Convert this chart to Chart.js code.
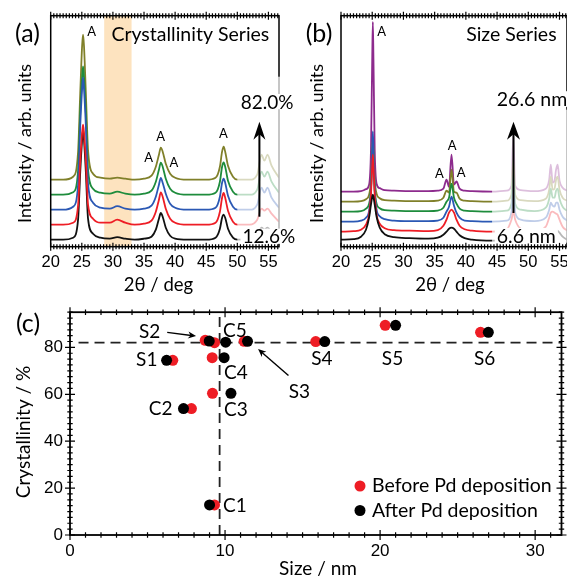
<!DOCTYPE html>
<html>
<head>
<meta charset="utf-8">
<title>Crystallinity and size series</title>
<script src="https://cdn.jsdelivr.net/npm/chart.js@4.4.1/dist/chart.umd.min.js"></script>
<style>
  body { margin: 0; background: #fff; }
  #figure { position: relative; width: 567px; height: 578px; overflow: hidden; }
  #figure canvas { position: absolute; }
</style>
</head>
<body>
<div id="figure">
  <canvas id="crystChart" width="300" height="300" style="left:0;top:0"></canvas>
  <canvas id="sizeChart" width="277" height="300" style="left:290px;top:0"></canvas>
  <canvas id="mapChart" width="567" height="283" style="left:0;top:295px"></canvas>
</div>
<script>
const tickFont = "'Liberation Sans', Arial, sans-serif";
const textFont = "Lato, 'Open Sans', sans-serif";

// (a) crystallinity series: 2theta grid and stacked patterns (arb. units)
const anglesA = [20, 22, 23.6, 24.4, 24.75, 25.05, 25.2, 25.35, 25.65, 26.0, 26.8, 28, 29.5, 30.7, 32, 33.5, 35, 36.2, 36.9, 37.4,
  37.7, 38.0, 38.5, 39.2, 40, 42, 45, 46.5, 47.2, 47.55, 47.8, 48.05, 48.5, 49.3, 50, 52, 53.2, 53.9, 54.35, 54.85, 55.5, 56.7];
const crystC1 = [7, 7, 9, 27, 75, 107, 117, 107, 75, 28, 13, 9, 8, 9.5, 8, 7, 8, 10, 17, 28,
  33.7, 30, 19, 11, 8, 7, 7, 9, 18, 29, 32, 29, 18, 9, 7, 7, 10, 19, 17, 19, 15, 9];
const crystC2 = [22, 22, 24, 41, 86, 114, 122, 114, 86, 42, 28, 24, 24, 27, 24, 22, 23, 26, 35, 47,
  54.3, 50, 38, 28, 24, 22, 22, 24, 35, 49, 53.7, 49, 36, 25, 22, 22, 27, 38, 36, 38, 33, 25];
const crystC3 = [37, 37, 40, 62, 121, 158, 169, 158, 121, 63, 44, 39, 38, 40.5, 38, 37, 38, 41, 50, 62,
  68.7, 64, 53, 43, 39, 37, 37, 39, 50, 64, 68, 64, 51, 40, 37, 37, 42, 59, 54, 59, 49, 39];
const crystC4 = [52, 52, 54.5, 76, 134, 170, 180.3, 170, 134, 77, 58, 54, 53, 55, 53, 52, 53, 56, 65, 77,
  84, 80, 68, 58, 54, 52, 52, 54, 65, 80, 84.3, 80, 66, 55, 52, 52, 57, 75, 70, 75, 65, 54];
const crystC5 = [67, 67, 70, 95, 154, 201, 212, 201, 154, 97, 73, 69, 68, 69, 68, 67, 68, 71, 80, 92,
  99, 95, 83, 73, 69, 67, 67, 69, 80, 95, 100, 95, 81, 70, 67, 67, 72, 92, 86, 92, 81, 69];

// (b) size series
const anglesB = [20, 22, 23.2, 24.0, 24.5, 24.8, 25.0, 25.1, 25.2, 25.4, 25.7, 26.2, 27.0, 28.5, 31, 34, 35.5, 36.4, 36.9, 37.3,
  37.7, 38.1, 38.5, 39.0, 39.8, 41, 44.2, 46.5, 47.3, 47.6, 47.9, 48.8, 51, 52.8, 53.35, 53.6, 53.9, 54.2, 54.45, 54.7, 55.0, 55.5, 56.2];
const sizeS1 = [7, 7.5, 10, 17, 29, 42, 50, 52, 50, 42, 30, 19, 12.5, 9.5, 8.5, 8, 9, 12, 15, 18,
  19, 18, 15, 11.5, 8.5, 7, 6, 7, 13, 16, 13, 8, 6.5, 10, 15, 17, 17.5, 17, 16.5, 16, 14, 10, 7];
const sizeS2 = [15, 15.5, 17, 22, 32, 52, 82, 92, 82, 52, 32, 23, 18.5, 16.5, 16, 15.5, 16.5, 21, 27, 34,
  37, 34, 27, 21, 17.5, 16, 15, 17, 27, 35, 27, 18, 15.5, 20, 29, 34, 35, 34, 33, 32, 27, 20, 16];
const sizeS3 = [25, 25, 26, 29, 36, 57, 97, 115.3, 97, 57, 37, 30.5, 27.5, 26, 25.5, 25.5, 26, 29, 35, 40,
  50, 41, 34, 29, 26, 25.5, 25, 26, 34, 57, 34, 27, 25.5, 29, 37, 44, 41, 40, 44, 44, 37, 30, 26];
const sizeS4 = [35, 35, 35.5, 38, 43, 57, 87, 102, 87, 57, 43, 38.5, 36.5, 36, 35.5, 35.5, 36, 39, 45, 49,
  63, 49, 43, 38, 36, 35.5, 35, 36, 43, 72, 43, 37, 35.5, 39, 48, 58, 49, 49, 56, 58, 48, 40, 36];
const sizeS5 = [45, 45, 45.5, 47.5, 52, 67, 97, 107, 97, 67, 53, 48.5, 46.5, 46, 45.5, 45.5, 46, 49, 56, 54,
  77, 55, 54, 48, 46, 45.5, 45, 46, 52, 87, 52, 46.5, 45.5, 48, 57, 70, 57, 58, 67, 70, 57, 49, 46];
const sizeS6 = [55, 55, 55.5, 57.5, 62, 97, 187, 224.7, 187, 97, 63, 58.5, 56.5, 56, 55.5, 55.5, 56, 58, 67, 60,
  92, 62, 65.3, 58, 56, 55.5, 55, 56, 61, 112, 61, 56.5, 55.5, 58, 67, 82, 64, 66, 77, 82, 66, 59, 56];

// (c) crystallinity vs crystallite size
const samples = ["S1", "S2", "S3", "S4", "S5", "S6", "C1", "C2", "C3", "C4", "C5"];
const sizeBefore = [6.63, 8.72, 11.23, 15.85, 20.33, 26.48, 9.32, 7.83, 9.19, 9.17, 9.32];
const crystBefore = [74.5, 83.0, 82.6, 82.5, 89.4, 86.4, 12.8, 53.9, 60.4, 75.6, 82.0];
const sizeAfter = [6.23, 8.98, 11.45, 16.43, 21.0, 26.98, 9.0, 7.32, 10.38, 9.94, 10.04];
const crystAfter = [74.5, 82.7, 82.6, 82.5, 89.4, 86.4, 12.8, 53.9, 60.4, 75.6, 82.2];
const refSize = 9.65;
const refCryst = 82;

const angleTicks = [20, 25, 30, 35, 40, 45, 50, 55];
const sizeTicks = [0, 10, 20, 30];
const crystTicks = [0, 20, 40, 60, 80];

const colors = {
  black: "#111111",
  red: "#ee1d25",
  blue: "#2b58b4",
  green: "#1e8c3c",
  olive: "#80802a",
  purple: "#8d2b8d",
};

function pattern(angles, values) {
  return angles.map((x, i) => ({ x, y: values[i] }));
}

function trace(label, angles, values, color, order) {
  return {
    label,
    data: pattern(angles, values),
    borderColor: color,
    borderWidth: 1.8,
    pointRadius: 0,
    cubicInterpolationMode: "monotone",
    order,
  };
}

function tickMarks(scale, spec) {
  const out = [];
  const first = Math.ceil(scale.min / spec.minor - 1e-6);
  for (let i = first; i * spec.minor <= scale.max + 1e-6; i++) {
    const r = (i * spec.minor) / spec.major;
    out.push({ px: scale.getPixelForValue(i * spec.minor), major: Math.abs(r - Math.round(r)) < 1e-6 });
  }
  return out;
}

function writeText(ctx, text, px, py, t) {
  ctx.save();
  ctx.font = `${t.size}px ${t.family || textFont}`;
  ctx.textAlign = t.align || "center";
  ctx.textBaseline = "middle";
  ctx.translate(px, py);
  if (t.rotate) ctx.rotate(-Math.PI / 2);
  if (t.bg) {
    const w = ctx.measureText(text).width;
    const left = t.align === "left" ? 0 : -w / 2;
    ctx.fillStyle = "#fff";
    ctx.fillRect(left - 2, -t.size * 0.45, w + 4, t.size * 0.8);
  }
  ctx.fillStyle = "#000";
  ctx.fillText(text, 0, 0);
  ctx.restore();
}

function drawArrow(ctx, x0, y0, x1, y1, a) {
  const len = Math.hypot(x1 - x0, y1 - y0);
  ctx.save();
  ctx.translate(x0, y0);
  ctx.rotate(Math.atan2(y1 - y0, x1 - x0));
  ctx.lineWidth = a.width;
  ctx.beginPath();
  ctx.moveTo(0, 0);
  ctx.lineTo(len - a.head * 0.6, 0);
  ctx.stroke();
  ctx.beginPath();
  ctx.moveTo(len, 0);
  ctx.lineTo(len - a.head, -a.half);
  ctx.lineTo(len - a.head * 0.7, 0);
  ctx.lineTo(len - a.head, a.half);
  ctx.closePath();
  ctx.fill();
  ctx.restore();
}

// box, tick marks, highlighted band and the faded high-angle region
const frame = {
  id: "frame",
  beforeDatasetsDraw(chart, _args, opts) {
    if (!opts.band) return;
    const { ctx, chartArea: area, scales: { x } } = chart;
    const x0 = x.getPixelForValue(opts.band.from);
    const x1 = x.getPixelForValue(opts.band.to);
    ctx.save();
    ctx.fillStyle = opts.band.color;
    ctx.fillRect(x0, area.top, x1 - x0, area.bottom - area.top);
    ctx.restore();
  },
  afterDatasetsDraw(chart, _args, opts) {
    const { ctx, chartArea: area, scales: { x, y } } = chart;
    ctx.save();
    ctx.strokeStyle = "#000";
    ctx.lineWidth = opts.lineWidth;
    ctx.strokeRect(area.left, area.top, area.right - area.left, area.bottom - area.top);
    ctx.lineWidth = 1.2;
    ctx.beginPath();
    for (const t of tickMarks(x, opts.xTicks)) {
      const len = t.major ? opts.majorLen : opts.minorLen;
      for (const edge of [area.bottom, area.top]) {
        ctx.moveTo(t.px, edge - len);
        ctx.lineTo(t.px, edge + len);
      }
    }
    if (opts.yTicks) {
      for (const t of tickMarks(y, opts.yTicks)) {
        const len = t.major ? opts.majorLen : opts.minorLen;
        for (const edge of [area.left, area.right]) {
          ctx.moveTo(edge - len, t.px);
          ctx.lineTo(edge + len, t.px);
        }
      }
    }
    ctx.stroke();
    if (opts.fade) {
      const x0 = x.getPixelForValue(opts.fade.from);
      const y0 = y.getPixelForValue(opts.fade.high);
      ctx.fillStyle = "rgba(255, 255, 255, 0.7)";
      ctx.fillRect(x0, y0, area.right + 3 - x0, y.getPixelForValue(opts.fade.low) - y0);
    }
    ctx.restore();
  },
};

// peak labels, arrows, sample names, titles and the key of panel (c)
const notes = {
  id: "notes",
  afterDraw(chart, _args, opts) {
    const { ctx, scales: { x, y } } = chart;
    ctx.save();
    ctx.fillStyle = "#000";
    ctx.strokeStyle = "#000";
    for (const a of opts.arrows || []) {
      drawArrow(ctx, x.getPixelForValue(a.from[0]), y.getPixelForValue(a.from[1]),
        x.getPixelForValue(a.to[0]), y.getPixelForValue(a.to[1]), a);
    }
    ctx.restore();
    for (const t of opts.labels || []) writeText(ctx, t.text, x.getPixelForValue(t.x), y.getPixelForValue(t.y), t);
    for (const t of opts.titles || []) writeText(ctx, t.text, t.x, t.y, t);
    if (opts.key) {
      const k = opts.key;
      chart.data.datasets.filter((d) => d.label).forEach((d, i) => {
        const cy = k.y + i * k.gap;
        ctx.save();
        ctx.fillStyle = d.backgroundColor;
        ctx.beginPath();
        ctx.arc(k.x, cy, 5.5, 0, Math.PI * 2);
        ctx.fill();
        ctx.restore();
        writeText(ctx, d.label, k.x + 12, cy, { size: k.size, align: "left" });
      });
    }
  },
};

function angleAxis(max) {
  return {
    type: "linear",
    min: 20,
    max,
    afterBuildTicks: (s) => { s.ticks = angleTicks.map((v) => ({ value: v })); },
    afterFit: (s) => { s.height = 53.3; s.paddingLeft = 0; s.paddingRight = 0; },
    grid: { display: false, drawTicks: false },
    border: { display: false },
    ticks: { autoSkip: false, maxRotation: 0, padding: 6, color: "#000", font: { family: tickFont, size: 16.5 } },
  };
}

function intensityAxis(width) {
  return {
    type: "linear",
    min: 0,
    max: 231,
    afterFit: (s) => { s.width = width; },
    grid: { display: false, drawTicks: false },
    border: { display: false },
    ticks: { display: false },
  };
}

const peakLabel = (x, y) => ({ text: "A", x, y, size: 13 });
const baseOptions = { responsive: false, animation: false, events: [] };

new Chart(document.getElementById("crystChart"), {
  type: "line",
  data: {
    datasets: [
      trace("C2", anglesA, crystC2, colors.red, 0),
      trace("C3", anglesA, crystC3, colors.blue, 1),
      trace("C4", anglesA, crystC4, colors.green, 2),
      trace("C5", anglesA, crystC5, colors.olive, 3),
      trace("C1", anglesA, crystC1, colors.black, 4),
    ],
  },
  options: {
    ...baseOptions,
    layout: { padding: { left: 0, top: 15.7, right: 21, bottom: 0 } },
    scales: { x: angleAxis(56.7), y: intensityAxis(50.7) },
    plugins: {
      legend: { display: false },
      tooltip: { enabled: false },
      frame: {
        lineWidth: 1.5, majorLen: 4, minorLen: 2.5,
        xTicks: { minor: 0.5, major: 5 },
        band: { from: 28.6, to: 33.0, color: "#fde3bf" },
        fade: { from: 50, low: 4, high: 170 },
      },
      notes: {
        arrows: [{ from: [53.55, 30], to: [53.55, 125], width: 2, head: 18, half: 6 }],
        labels: [
          peakLabel(26.57, 214.7), peakLabel(37.68, 110), peakLabel(35.75, 88.4),
          peakLabel(39.81, 83.4), peakLabel(47.77, 112.4),
          { text: "Crystallinity Series", x: 42.45, y: 211.7, size: 19.5 },
          { text: "82.0%", x: 50.55, y: 144.2, size: 19, align: "left", bg: true },
          { text: "12.6%", x: 50.82, y: 9.5, size: 19, align: "left", bg: true },
        ],
        titles: [
          { text: "(a)", x: 27.5, y: 34, size: 25 },
          { text: "Intensity / arb. units", x: 25, y: 143.5, size: 18, rotate: true },
          { text: "2θ / deg", x: 158.5, y: 285, size: 18.5 },
        ],
      },
    },
  },
  plugins: [frame, notes],
});

new Chart(document.getElementById("sizeChart"), {
  type: "line",
  data: {
    datasets: [
      trace("S1", anglesB, sizeS1, colors.black, 0),
      trace("S2", anglesB, sizeS2, colors.red, 1),
      trace("S3", anglesB, sizeS3, colors.blue, 2),
      trace("S4", anglesB, sizeS4, colors.green, 3),
      trace("S5", anglesB, sizeS5, colors.olive, 4),
      trace("S6", anglesB, sizeS6, colors.purple, 5),
    ],
  },
  options: {
    ...baseOptions,
    layout: { padding: { left: 0, top: 15.7, right: 0, bottom: 0 } },
    scales: { x: angleAxis(56.2), y: intensityAxis(51) },
    plugins: {
      legend: { display: false },
      tooltip: { enabled: false },
      frame: {
        lineWidth: 1.5, majorLen: 4, minorLen: 2.5,
        xTicks: { minor: 0.5, major: 5 },
        fade: { from: 44.2, low: 4, high: 137 },
      },
      notes: {
        arrows: [{ from: [47.63, 33.7], to: [47.63, 125], width: 2, head: 18, half: 6.5 }],
        labels: [
          peakLabel(26.52, 214.4), peakLabel(37.79, 101), peakLabel(35.75, 72.7), peakLabel(39.23, 73.4),
          { text: "Size Series", x: 47.29, y: 211.7, size: 19.5 },
          { text: "26.6 nm", x: 44.95, y: 146.7, size: 19.5, align: "left", bg: true },
          { text: "6.6 nm", x: 44.95, y: 10, size: 19.5, align: "left", bg: true },
        ],
        titles: [
          { text: "(b)", x: 29, y: 34, size: 25 },
          { text: "Intensity / arb. units", x: 27, y: 143.5, size: 18, rotate: true },
          { text: "2θ / deg", x: 160, y: 285, size: 18.5 },
        ],
      },
    },
  },
  plugins: [frame, notes],
});

const dotStyle = { pointRadius: 5.5, pointBorderWidth: 0, showLine: false };
const refLine = { showLine: true, pointRadius: 0, borderColor: "#222", borderWidth: 1.8, borderDash: [10, 6], order: 2 };

new Chart(document.getElementById("mapChart"), {
  type: "scatter",
  data: {
    datasets: [
      { label: "Before Pd deposition", data: pattern(sizeBefore, crystBefore), backgroundColor: colors.red, ...dotStyle, order: 1 },
      { label: "After Pd deposition", data: pattern(sizeAfter, crystAfter), backgroundColor: "#000", ...dotStyle, order: 0 },
      { data: [{ x: 0.55, y: refCryst }, { x: 31.7, y: refCryst }], ...refLine },
      { data: [{ x: refSize, y: 0 }, { x: refSize, y: 95 }], ...refLine },
    ],
  },
  options: {
    ...baseOptions,
    layout: { padding: { left: 0, top: 7, right: 1, bottom: 0 } },
    scales: {
      x: {
        type: "linear", min: 0, max: 31.7,
        afterBuildTicks: (s) => { s.ticks = sizeTicks.map((v) => ({ value: v })); },
        afterFit: (s) => { s.height = 43; s.paddingLeft = 0; s.paddingRight = 0; },
        grid: { display: false, drawTicks: false },
        border: { display: false },
        ticks: { autoSkip: false, maxRotation: 0, padding: 6.5, color: "#000", font: { family: tickFont, size: 17 } },
      },
      y: {
        type: "linear", min: 0, max: 95,
        afterBuildTicks: (s) => { s.ticks = crystTicks.map((v) => ({ value: v })); },
        afterFit: (s) => { s.width = 70; },
        grid: { display: false, drawTicks: false },
        border: { display: false },
        ticks: { padding: 7, color: "#000", font: { family: tickFont, size: 17 } },
      },
    },
    plugins: {
      legend: { display: false },
      tooltip: { enabled: false },
      frame: {
        lineWidth: 1.8, majorLen: 5, minorLen: 2.7,
        xTicks: { minor: 1, major: 10 },
        yTicks: { minor: 2.5, major: 20 },
      },
      notes: {
        arrows: [
          { from: [6.27, 86.4], to: [8.13, 84.8], width: 1.4, head: 8, half: 3.5 },
          { from: [14.09, 68], to: [12.13, 79.3], width: 1.4, head: 8, half: 3.5 },
        ],
        labels: [
          [4.95, 74.6], [5.14, 86.7], [14.8, 61], [16.24, 75.1], [20.8, 75.2], [26.74, 75.2],
          [10.64, 12.5], [5.85, 53.9], [10.7, 53.3], [10.7, 69.1], [10.64, 87.1],
        ].map(([x, y], i) => ({ text: samples[i], x, y, size: 19 })),
        titles: [
          { text: "(c)", x: 28, y: 29, size: 25 },
          { text: "Crystallinity / %", x: 24, y: 137, size: 19, rotate: true },
          { text: "Size / nm", x: 318, y: 274, size: 19 },
        ],
        key: { x: 360, y: 191, gap: 24.5, size: 19.5 },
      },
    },
  },
  plugins: [frame, notes],
});
</script>
</body>
</html>
